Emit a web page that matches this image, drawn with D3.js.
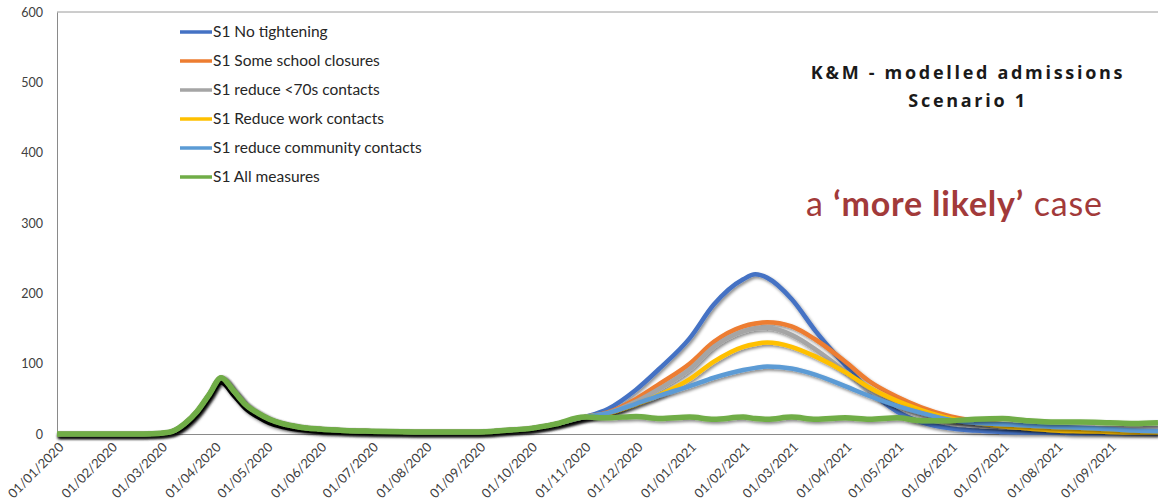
<!DOCTYPE html>
<html>
<head>
<meta charset="utf-8">
<script src="https://cdn.jsdelivr.net/npm/d3@7"></script>
<style>
  body { margin: 0; background: #fff; }
  svg { display: block; font-family: Lato, "Open Sans", sans-serif; }
</style>
</head>
<body>
<svg id="chart" width="1158" height="501"></svg>
<script>
// shared path up to early November 2020
const baseDates = ["2020-01-01","2020-02-01","2020-02-20","2020-03-01","2020-03-08","2020-03-15","2020-03-22","2020-03-29","2020-04-05","2020-04-12","2020-04-19","2020-04-26","2020-05-03","2020-05-10","2020-05-20","2020-06-01","2020-06-15","2020-07-01","2020-08-01","2020-09-01","2020-09-15","2020-10-01","2020-10-15","2020-11-01"];
const baseValues = [0,0,0,1,4,15,32,56,80,62,42,30,21,15,10,7,5,4,3,3,5,8,14,24];

// black (actuals) line
const historicDates = baseDates.concat(["2020-11-08"]);
const historicValues = [0,0,0,0,2,10,27,50,73,55,36,24,15,10,6,3,2,1,1,1,3,6,12,22,27];

// scenario projections from mid November 2020
const scenarioDates = ["2020-11-15","2020-12-01","2020-12-15","2021-01-01","2021-01-15","2021-02-01","2021-02-08","2021-02-15","2021-03-01","2021-03-15","2021-04-01","2021-04-15","2021-05-01","2021-05-15","2021-06-01","2021-06-15","2021-07-01","2021-07-15","2021-08-01","2021-08-15","2021-09-01","2021-09-15","2021-09-29"];
const noTightening   = [36,63,94,136,184,220,227,222,192,146,98,62,32,17,8,5,3,2,2,1,1,1,1];
const schoolClosures = [31,50,72,100,131,153,157,159,153,134,103,75,53,38,25,19,14,11,8,6,5,4,3];
const reduce70s      = [30,46,65,92,124,146,150,151,141,120,89,62,40,27,16,12,10,9,9,8,8,8,8];
const workContacts   = [29,42,56,78,103,124,128,130,124,110,88,66,47,34,22,16,11,8,5,4,3,2,2];
const communityCont  = [30,43,55,68,80,91,94,96,93,84,68,54,40,30,20,16,14,12,10,9,7,5,4];
const allMeasures    = [23,25,22,24,21,24,22,21,24,21,23,21,23,19,19,21,22,19,17,17,16,15,16];

const seriesNames  = ["S1 No tightening","S1 Some school closures","S1 reduce <70s contacts","S1 Reduce work contacts","S1 reduce community contacts","S1 All measures"];
const seriesValues = [noTightening, schoolClosures, reduce70s, workContacts, communityCont, allMeasures];
const seriesColors = ["#4472C4","#ED7D31","#A5A5A5","#FFC000","#5B9BD5","#70AD47"];

const yTicks = [0,100,200,300,400,500,600];

const parse = d3.utcParse("%Y-%m-%d");
const fmt = d3.utcFormat("%d/%m/%Y");

const svg = d3.select("#chart");
const margin = { top: 12, left: 57, bottom: 434, right: 1158 };

const x = d3.scaleUtc()
  .domain([parse("2020-01-01"), parse("2021-09-29")])
  .range([margin.left, margin.right]);
const y = d3.scaleLinear().domain([0, 600]).range([margin.bottom, margin.top]);

const defs = svg.append("defs");
defs.append("filter")
  .attr("id", "shadow")
  .attr("filterUnits", "userSpaceOnUse")
  .attr("x", 0).attr("y", 0).attr("width", 1158).attr("height", 501)
  .append("feDropShadow")
  .attr("dx", 1.5).attr("dy", 2).attr("stdDeviation", 1.6)
  .attr("flood-color", "#000").attr("flood-opacity", 0.45);

// frame: top edge
svg.append("line")
  .attr("x1", margin.left).attr("x2", margin.right + 5)
  .attr("y1", margin.top).attr("y2", margin.top)
  .attr("stroke", "#9a9a9a").attr("stroke-width", 1);

// y axis
const yAxis = svg.append("g")
  .attr("transform", `translate(${margin.left},0)`)
  .call(d3.axisLeft(y).tickValues(yTicks).tickSize(0).tickPadding(14));
yAxis.select(".domain").attr("stroke", "#8a8a8a");
yAxis.selectAll("text")
  .attr("font-size", 12.5)
  .attr("fill", "#404040")
  .attr("font-family", "Lato, sans-serif");

// x axis
const monthTicks = d3.utcMonth.range(parse("2020-01-01"), parse("2021-10-01"));
const xAxis = svg.append("g")
  .attr("transform", `translate(0,${margin.bottom})`)
  .call(d3.axisBottom(x).tickValues(monthTicks).tickFormat(fmt).tickSize(0));
xAxis.select(".domain").attr("stroke", "#8a8a8a");
xAxis.selectAll("text")
  .attr("font-size", 13)
  .attr("fill", "#404040")
  .attr("font-family", "Lato, sans-serif")
  .attr("text-anchor", "end")
  .attr("dy", null)
  .attr("y", 0)
  .attr("transform", "translate(7,14) rotate(-45)");

const line = d3.line()
  .x(d => x(d.date))
  .y(d => y(d.value))
  .curve(d3.curveMonotoneX);

const plot = svg.append("g");

// black actuals
const historic = historicDates.map((d, i) => ({ date: parse(d), value: historicValues[i] }));
plot.append("path")
  .datum(historic)
  .attr("d", line)
  .attr("fill", "none")
  .attr("stroke", "#000")
  .attr("stroke-width", 4)
  .attr("filter", "url(#shadow)");

seriesValues.forEach((vals, k) => {
  const pts = baseDates.map((d, i) => ({ date: parse(d), value: baseValues[i] }))
    .concat(scenarioDates.map((d, i) => ({ date: parse(d), value: vals[i] })));
  plot.append("path")
    .datum(pts)
    .attr("d", line)
    .attr("fill", "none")
    .attr("stroke", seriesColors[k])
    .attr("stroke-width", k === 5 ? 5.5 : 4.5)
    .attr("stroke-linejoin", "round")
    .attr("filter", "url(#shadow)");
});

// legend
const legend = svg.append("g").attr("transform", "translate(180,32)");
seriesNames.forEach((name, i) => {
  const row = legend.append("g").attr("transform", `translate(0,${i * 29})`);
  row.append("line")
    .attr("x1", 0).attr("x2", 32).attr("y1", 0).attr("y2", 0)
    .attr("stroke", seriesColors[i]).attr("stroke-width", 3.5);
  row.append("text")
    .attr("x", 33).attr("y", 5)
    .attr("font-size", 15.5)
    .attr("fill", "#262626")
    .text(name);
});

// title block
svg.append("text")
  .attr("x", 968).attr("y", 79)
  .attr("text-anchor", "middle")
  .attr("font-family", "'Open Sans', sans-serif")
  .attr("font-weight", "bold")
  .attr("font-size", 18)
  .attr("letter-spacing", 2.7)
  .attr("fill", "#1a1a1a")
  .text("K&M - modelled admissions");
svg.append("text")
  .attr("x", 968).attr("y", 107)
  .attr("text-anchor", "middle")
  .attr("font-family", "'Open Sans', sans-serif")
  .attr("font-weight", "bold")
  .attr("font-size", 18)
  .attr("letter-spacing", 2.7)
  .attr("fill", "#1a1a1a")
  .text("Scenario 1");

const note = svg.append("text")
  .attr("x", 806).attr("y", 216)
  .attr("font-size", 34)
  .attr("letter-spacing", 0.8)
  .attr("fill", "#A23A3A");
note.append("tspan").text("a ");
note.append("tspan").attr("font-weight", "bold").text("\u2018more likely\u2019");
note.append("tspan").text(" case");
</script>
</body>
</html>
